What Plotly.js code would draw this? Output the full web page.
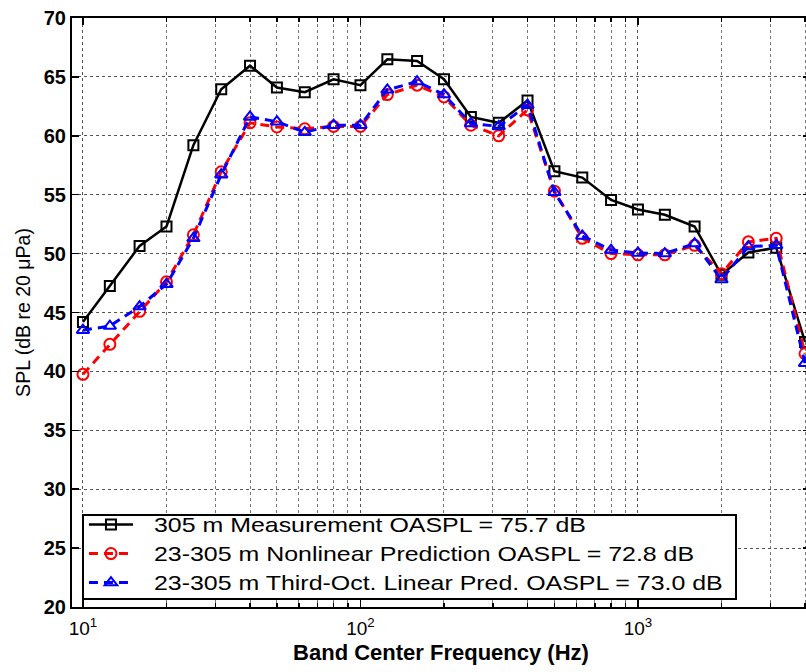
<!DOCTYPE html>
<html>
<head>
<meta charset="utf-8">
<script src="https://cdn.plot.ly/plotly-3.0.1.min.js"></script>
<style>
  html, body { margin: 0; padding: 0; overflow: hidden; background: #fff; }
  #chart { width: 820px; height: 672px; }
</style>
</head>
<body>
<div id="chart"></div>
<script>
// Third-octave band centre frequencies (Hz)
const bands = [10, 12.5, 16, 20, 25, 31.5, 40, 50, 63, 80, 100, 125, 160, 200,
               250, 315, 400, 500, 630, 800, 1000, 1250, 1600, 2000, 2500, 3150, 4000];

// 305 m measurement (dB)
const measured305 = [44.2, 47.25, 50.65, 52.3, 59.2, 63.95, 65.95, 64.1, 63.7, 64.8, 64.3, 66.5, 66.35, 64.8,
                     61.6, 61.1, 63.0, 57.0, 56.45, 54.55, 53.75, 53.3, 52.3, 48.2, 50.1, 50.5, 42.5];

// 23-305 m nonlinear prediction (dB)
const nonlinearPred = [39.75, 42.3, 45.1, 47.6, 51.6, 56.95, 61.1, 60.75, 60.6, 60.8, 60.8, 63.5, 64.3, 63.3,
                       60.9, 60.0, 62.2, 55.3, 51.3, 50.0, 49.9, 49.9, 50.7, 48.3, 51.0, 51.3, 41.5];

// 23-305 m third-octave linear prediction (dB)
const linearPred = [43.5, 43.85, 45.5, 47.4, 51.3, 56.7, 61.6, 61.2, 60.3, 60.9, 60.9, 63.9, 64.6, 63.5,
                    61.05, 60.8, 62.6, 55.2, 51.5, 50.3, 50.05, 50.0, 50.85, 47.8, 50.6, 50.7, 40.7];

const seriesNames = [
  '305 m Measurement OASPL = 75.7 dB',
  '23-305 m Nonlinear Prediction OASPL = 72.8 dB',
  '23-305 m Third-Oct. Linear Pred. OASPL = 73.0 dB'
];

const xTickVals = [10, 100, 1000];
const xTickText = ['10<sup>1</sup>', '10<sup>2</sup>', '10<sup>3</sup>'];
const yTickVals = [20, 25, 30, 35, 40, 45, 50, 55, 60, 65, 70];

const traces = [
  {
    x: bands, y: measured305, name: seriesNames[0], type: 'scatter', mode: 'lines+markers',
    line: { color: '#000000', width: 2.5 },
    marker: { symbol: 'square-open', size: 10, color: '#000000', line: { width: 2 } }
  },
  {
    x: bands, y: nonlinearPred, name: seriesNames[1], type: 'scatter', mode: 'lines+markers',
    line: { color: '#ff0000', width: 3, dash: '9px,6px' },
    marker: { symbol: 'circle-open', size: 11, color: '#ff0000', line: { width: 2 } }
  },
  {
    x: bands, y: linearPred, name: seriesNames[2], type: 'scatter', mode: 'lines+markers',
    line: { color: '#0000ff', width: 3, dash: '9px,6px' },
    marker: { symbol: 'triangle-up-open', size: 11, color: '#0000ff', line: { width: 2 } }
  }
];

const gridColor = '#555555';

// plot area spans 72px .. 810px horizontally; the page window shows up to 806px
const layout = {
  width: 820, height: 672,
  margin: { l: 72, r: 10, t: 18, b: 65 },
  paper_bgcolor: '#ffffff', plot_bgcolor: '#ffffff',
  font: { family: 'Liberation Sans, Arial, sans-serif', color: '#000000' },
  showlegend: true,
  legend: {
    x: 0.0135, y: 0.005, xanchor: 'left', yanchor: 'bottom',
    bgcolor: '#ffffff', bordercolor: '#000000', borderwidth: 2,
    font: { size: 20, family: 'Liberation Sans, Arial, sans-serif', color: '#000' },
    tracegroupgap: 0, itemwidth: 44
  },
  xaxis: {
    type: 'log',
    range: [0.9605, 3.62],
    tickmode: 'array', tickvals: xTickVals, ticktext: xTickText,
    tickfont: { size: 19 },
    ticklabelstandoff: 3,
    ticks: 'inside', ticklen: 7, tickwidth: 1.5, tickcolor: '#000',
    showline: true, linecolor: '#000', linewidth: 2, mirror: 'allticks',
    showgrid: true, gridcolor: gridColor, gridwidth: 1, griddash: 'dot',
    minor: { dtick: 'D1', ticks: 'inside', ticklen: 4, tickcolor: '#000',
             showgrid: true, gridcolor: '#777777', gridwidth: 1, griddash: 'dot' },
    zeroline: false,
    title: { text: '<b>Band Center Frequency (Hz)</b>', font: { size: 22 }, standoff: 7 }
  },
  yaxis: {
    range: [20, 70],
    tickmode: 'array', tickvals: yTickVals,
    ticktext: yTickVals.map(v => '<b>' + v + '</b>'),
    tickfont: { size: 20 },
    ticks: 'inside', ticklen: 7, tickwidth: 1.5, tickcolor: '#000',
    showline: true, linecolor: '#000', linewidth: 2, mirror: 'allticks',
    showgrid: true, gridcolor: gridColor, gridwidth: 1, griddash: 'dot',
    zeroline: false,
    title: { text: 'SPL (dB re 20 μPa)', font: { size: 19.5 }, standoff: 8 }
  }
};

// Widen the legend lettering horizontally and fit the frame around it.
function styleLegend(gd) {
  const legend = gd.querySelector('g.legend');
  if (!legend) return;
  const bg = legend.querySelector('rect.bg');
  if (!bg) return;
  const frame = bg.getBoundingClientRect();
  const textOffset = 71;     // text start, measured from the frame's left edge
  const textSpan = 569;      // width of the longest entry
  const frameWidth = 653;
  const texts = Array.from(legend.querySelectorAll('text.legendtext'));
  const widest = Math.max(...texts.map(t => t.getBoundingClientRect().width));
  if (!(widest > 0)) return;
  const s = textSpan / widest;
  texts.forEach(t => {
    const r = t.getBoundingClientRect();
    const bb = t.getBBox();
    const shift = (frame.left + textOffset) - r.left;
    t.setAttribute('transform', `matrix(${s},0,0,1,${bb.x * (1 - s) + shift},0)`);
  });
  bg.setAttribute('width', frameWidth);
  const y0 = parseFloat(bg.getAttribute('y') || '0');
  const h0 = parseFloat(bg.getAttribute('height') || '0');
  bg.setAttribute('y', y0 + 11);
  bg.setAttribute('height', h0 - 15);
  gd.querySelectorAll('clipPath[id^="legend"] rect').forEach(c => c.setAttribute('width', frameWidth));
}

Plotly.newPlot('chart', traces, layout, { displayModeBar: false, staticPlot: true })
  .then(styleLegend);
</script>
</body>
</html>
